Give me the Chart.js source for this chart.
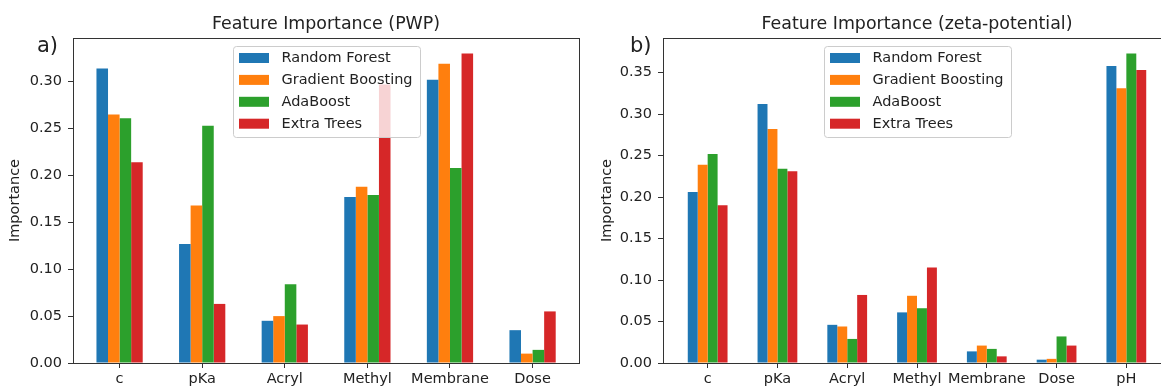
<!DOCTYPE html>
<html>
<head>
<meta charset="utf-8">
<script src="https://cdn.jsdelivr.net/npm/chart.js@4.4.0/dist/chart.umd.min.js"></script>
<style>
  body { margin: 0; width: 1161px; height: 391px; overflow: hidden; background: #fff; position: relative; }
  canvas { position: absolute; top: 0; }
  #pwpChart { left: 0; }
  #zetaChart { left: 580px; }
</style>
</head>
<body>
<canvas id="pwpChart" width="580" height="391"></canvas>
<canvas id="zetaChart" width="600" height="391"></canvas>
<script>
let models = ['Random Forest', 'Gradient Boosting', 'AdaBoost', 'Extra Trees'];
let colors = ['#1f77b4', '#ff7f0e', '#2ca02c', '#d62728'];

// PWP feature importances
let pwpFeatures = ['c', 'pKa', 'Acryl', 'Methyl', 'Membrane', 'Dose'];
let pwpRandomForest = [0.314, 0.127, 0.045, 0.177, 0.302, 0.035];
let pwpGradientBoosting = [0.265, 0.168, 0.050, 0.188, 0.319, 0.010];
let pwpAdaBoost = [0.261, 0.253, 0.084, 0.179, 0.208, 0.014];
let pwpExtraTrees = [0.214, 0.063, 0.041, 0.297, 0.330, 0.055];

// zeta-potential feature importances
let zetaFeatures = ['c', 'pKa', 'Acryl', 'Methyl', 'Membrane', 'Dose', 'pH'];
let zetaRandomForest = [0.206, 0.312, 0.046, 0.061, 0.014, 0.004, 0.358];
let zetaGradientBoosting = [0.239, 0.282, 0.044, 0.081, 0.021, 0.005, 0.331];
let zetaAdaBoost = [0.252, 0.234, 0.029, 0.066, 0.017, 0.032, 0.373];
let zetaExtraTrees = [0.190, 0.231, 0.082, 0.115, 0.008, 0.021, 0.353];

let tickStep = 0.05;
let font = '"DejaVu Sans", sans-serif';
let ink = '#222';

Chart.defaults.font.family = font;
Chart.defaults.color = ink;

// frame, title, panel tag and an in-plot legend
const panelDecor = {
  id: 'panelDecor',
  afterDatasetsDraw(chart) {
    const {ctx, chartArea: a} = chart;
    ctx.save();
    ctx.strokeStyle = '#333';
    ctx.lineWidth = 1;
    ctx.strokeRect(Math.round(a.left) + 0.5, Math.round(a.top) + 0.5,
      Math.round(a.right - a.left), Math.round(a.bottom - a.top));
    ctx.restore();
  },
  afterDraw(chart, args, opts) {
    const {ctx, chartArea: a} = chart;
    const mid = (a.left + a.right) / 2;
    ctx.save();
    ctx.fillStyle = ink;
    ctx.textAlign = 'center';
    ctx.textBaseline = 'alphabetic';
    ctx.font = '17.4px ' + font;
    ctx.fillText(opts.title, mid, 28.8);

    ctx.textAlign = 'left';
    ctx.font = '21px ' + font;
    ctx.fillText(opts.tag, opts.tagX, 51.8);

    // legend box
    ctx.font = '14.5px ' + font;
    const textW = Math.max(...models.map(m => ctx.measureText(m).width));
    const w = Math.round(48.5 + textW + 7), h = 91;
    const x = Math.round(mid - w / 2), y = Math.round(a.top + 8);
    ctx.beginPath();
    ctx.roundRect(x + 0.5, y + 0.5, w, h, 3);
    ctx.fillStyle = 'rgba(255,255,255,0.8)';
    ctx.fill();
    ctx.strokeStyle = '#cccccc';
    ctx.lineWidth = 1;
    ctx.stroke();
    ctx.textBaseline = 'middle';
    models.forEach((m, i) => {
      const cy = y + 12 + i * 21.9;
      ctx.fillStyle = colors[i];
      ctx.fillRect(x + 6, cy - 5, 30, 10);
      ctx.fillStyle = ink;
      ctx.fillText(m, x + 48.5, cy + 0.5);
    });
    ctx.restore();
  }
};

function tickMarks() {
  return { display: true, offset: false, drawOnChartArea: false, drawTicks: true, tickLength: 5, color: '#333' };
}

function makePanel(id, features, series, cfg) {
  let top = Math.max(...series.flat()) * 1.05;
  return new Chart(document.getElementById(id), {
    type: 'bar',
    data: {
      datasets: models.map((m, i) => ({
        label: m,
        data: features.map((f, j) => ({ x: j, y: series[i][j] })),
        backgroundColor: colors[i],
        categoryPercentage: cfg.groupWidth,
        barPercentage: 1
      }))
    },
    plugins: [panelDecor],
    options: {
      responsive: false,
      devicePixelRatio: 1,
      animation: false,
      layout: { padding: { top: 38, right: cfg.padRight, left: 0, bottom: 0 } },
      plugins: {
        legend: { display: false },
        tooltip: { enabled: false },
        panelDecor: { title: cfg.title, tag: cfg.tag, tagX: cfg.tagX }
      },
      scales: {
        x: {
          type: 'linear',
          offset: false,
          min: cfg.xMin,
          max: cfg.xMax,
          afterFit: s => { s.height = 28; },
          grid: tickMarks(),
          border: { display: false },
          ticks: {
            stepSize: 1,
            includeBounds: false,
            autoSkip: false,
            maxRotation: 0,
            padding: 3,
            font: { size: 14.5 },
            callback: v => features[v] ?? ''
          }
        },
        y: {
          min: 0,
          max: top,
          afterFit: s => { s.width = cfg.axisWidth; },
          grid: tickMarks(),
          border: { display: false },
          ticks: {
            stepSize: tickStep,
            includeBounds: false,
            padding: 6,
            font: { size: 14.5 },
            callback: v => v.toFixed(2)
          },
          title: {
            display: true,
            text: 'Importance',
            font: { size: 14.5 },
            padding: { top: cfg.labelPad, bottom: 0 }
          }
        }
      }
    }
  });
}

makePanel('pwpChart', pwpFeatures,
  [pwpRandomForest, pwpGradientBoosting, pwpAdaBoost, pwpExtraTrees],
  { title: 'Feature Importance (PWP)', tag: 'a)', tagX: 37, xMin: -0.564, xMax: 5.562,
    groupWidth: 0.56, axisWidth: 73, padRight: 1, labelPad: 7 });

makePanel('zetaChart', zetaFeatures,
  [zetaRandomForest, zetaGradientBoosting, zetaAdaBoost, zetaExtraTrees],
  { title: 'Feature Importance (zeta-potential)', tag: 'b)', tagX: 50, xMin: -0.64, xMax: 6.64,
    groupWidth: 0.57, axisWidth: 83, padRight: 9, labelPad: 18.5 });
</script>
</body>
</html>
